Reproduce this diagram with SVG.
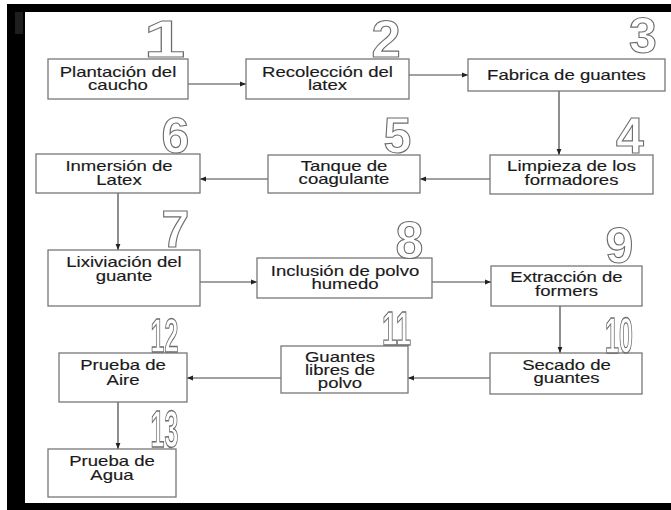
<svg xmlns="http://www.w3.org/2000/svg" width="671" height="510" viewBox="0 0 671 510">
<defs>
<style>
.box{fill:#fff;stroke:#777;stroke-width:1.3}
.lbl{font-family:"Liberation Sans",Arial,sans-serif;font-size:14.5px;fill:#1a1a1a;stroke:#1a1a1a;stroke-width:0.15;text-anchor:middle}
.num{font-family:"Liberation Sans",Arial,sans-serif;font-weight:bold;font-size:50px;fill:#fff;stroke:#6a6a6a;stroke-width:1.1;text-anchor:middle;vector-effect:non-scaling-stroke;opacity:0.98}
.con{fill:none;stroke:#444;stroke-width:1.2;marker-end:url(#ah)}
</style>
<marker id="ah" viewBox="0 0 10 10" refX="10" refY="5" markerWidth="6" markerHeight="6" markerUnits="userSpaceOnUse" orient="auto">
<path d="M0,1 L10,5 L0,9 z" fill="#222"/>
</marker>
<filter id="flat" x="-10%" y="-10%" width="120%" height="120%"><feOffset dx="0" dy="0"/></filter>
</defs>
<rect width="671" height="510" fill="#fff"/>
<g id="frame" fill="#000">
<rect x="7" y="4" width="664" height="8"/>
<rect x="7" y="4" width="18" height="506"/>
<rect x="7" y="503" width="664" height="7"/>
<rect x="15" y="12" width="8" height="22" fill="#1e1e1e"/>
</g>
<g id="connectors">
<line class="con" x1="188" y1="84" x2="246" y2="84"/>
<line class="con" x1="409" y1="75" x2="468" y2="75"/>
<line class="con" x1="559" y1="91" x2="559" y2="155"/>
<line class="con" x1="490" y1="179" x2="420" y2="179"/>
<line class="con" x1="268" y1="179" x2="200" y2="179"/>
<line class="con" x1="118" y1="193" x2="118" y2="250"/>
<line class="con" x1="200" y1="282" x2="257" y2="282"/>
<line class="con" x1="432" y1="282" x2="491" y2="282"/>
<line class="con" x1="560" y1="306" x2="560" y2="353"/>
<line class="con" x1="490" y1="378" x2="408" y2="378"/>
<line class="con" x1="281" y1="378" x2="187" y2="378"/>
<line class="con" x1="118" y1="402" x2="118" y2="449"/>
</g>
<g id="n1"><rect class="box" x="48" y="59" width="140" height="40"/>
<text class="lbl" transform="translate(118,0) scale(1.28,1)"><tspan x="0" y="77">Plantación del</tspan><tspan x="0" y="90">caucho</tspan></text>
<text class="num" transform="translate(164.5,57) scale(1.5,1.05)">1</text></g>
<g id="n2"><rect class="box" x="246" y="59" width="163" height="40"/>
<text class="lbl" transform="translate(327.5,0) scale(1.28,1)"><tspan x="0" y="77">Recolección del</tspan><tspan x="0" y="90">latex</tspan></text>
<text class="num" transform="translate(386,57) scale(1.05,1.03)">2</text></g>
<g id="n3"><rect class="box" x="468" y="59" width="197" height="32"/>
<text class="lbl" transform="translate(566.5,0) scale(1.28,1)"><tspan x="0" y="80">Fabrica de guantes</tspan></text>
<text class="num" transform="translate(643,53)">3</text></g>
<g id="n4"><rect class="box" x="490" y="155" width="163" height="39"/>
<text class="lbl" transform="translate(571.5,0) scale(1.28,1)"><tspan x="0" y="171">Limpieza de los</tspan><tspan x="0" y="185">formadores</tspan></text>
<text class="num" transform="translate(630,153)">4</text></g>
<g id="n5"><rect class="box" x="268" y="155" width="152" height="38"/>
<text class="lbl" transform="translate(344,0) scale(1.28,1)"><tspan x="0" y="171">Tanque de</tspan><tspan x="0" y="184">coagulante</tspan></text>
<text class="num" transform="translate(397.5,153)">5</text></g>
<g id="n6"><rect class="box" x="36" y="154" width="164" height="39"/>
<text class="lbl" transform="translate(119,0) scale(1.28,1)"><tspan x="0" y="171">Inmersión de</tspan><tspan x="0" y="185">Latex</tspan></text>
<text class="num" transform="translate(175.5,153)">6</text></g>
<g id="n7"><rect class="box" x="48" y="250" width="152" height="56"/>
<text class="lbl" transform="translate(124,0) scale(1.28,1)"><tspan x="0" y="267">Lixiviación del</tspan><tspan x="0" y="281">guante</tspan></text>
<text class="num" transform="translate(175.5,247) scale(1,1.03)">7</text></g>
<g id="n8"><rect class="box" x="257" y="258" width="175" height="40"/>
<text class="lbl" transform="translate(345,0) scale(1.28,1)"><tspan x="0" y="276">Inclusión de polvo</tspan><tspan x="0" y="289">humedo</tspan></text>
<text class="num" transform="translate(409.5,258) scale(1,1.03)">8</text></g>
<g id="n9"><rect class="box" x="491" y="266" width="151" height="40"/>
<text class="lbl" transform="translate(566.5,0) scale(1.28,1)"><tspan x="0" y="282">Extracción de</tspan><tspan x="0" y="296">formers</tspan></text>
<text class="num" transform="translate(619.5,263)">9</text></g>
<g id="n10"><rect class="box" x="490" y="353" width="152" height="41"/>
<text class="lbl" transform="translate(566.5,0) scale(1.28,1)"><tspan x="0" y="370">Secado de</tspan><tspan x="0" y="383">guantes</tspan></text>
<g filter="url(#flat)"><text class="num" transform="translate(619,353) scale(0.5,1)">10</text></g></g>
<g id="n11"><rect class="box" x="281" y="346" width="127" height="47"/>
<text class="lbl" transform="translate(340,0) scale(1.28,1)"><tspan x="0" y="362">Guantes</tspan><tspan x="0" y="375">libres de</tspan><tspan x="0" y="388">polvo</tspan></text>
<g filter="url(#flat)"><text class="num" transform="translate(396.5,345) scale(0.55,0.98)">11</text></g></g>
<g id="n12"><rect class="box" x="59" y="353" width="128" height="49"/>
<text class="lbl" transform="translate(123,0) scale(1.28,1)"><tspan x="0" y="370">Prueba de</tspan><tspan x="0" y="385">Aire</tspan></text>
<g filter="url(#flat)"><text class="num" transform="translate(164.5,352) scale(0.5,0.98)">12</text></g></g>
<g id="n13"><rect class="box" x="48" y="449" width="128" height="48"/>
<text class="lbl" transform="translate(112,0) scale(1.28,1)"><tspan x="0" y="466">Prueba de</tspan><tspan x="0" y="480">Agua</tspan></text>
<g filter="url(#flat)"><text class="num" transform="translate(164.5,447) scale(0.5,1.03)">13</text></g></g>
</svg>
